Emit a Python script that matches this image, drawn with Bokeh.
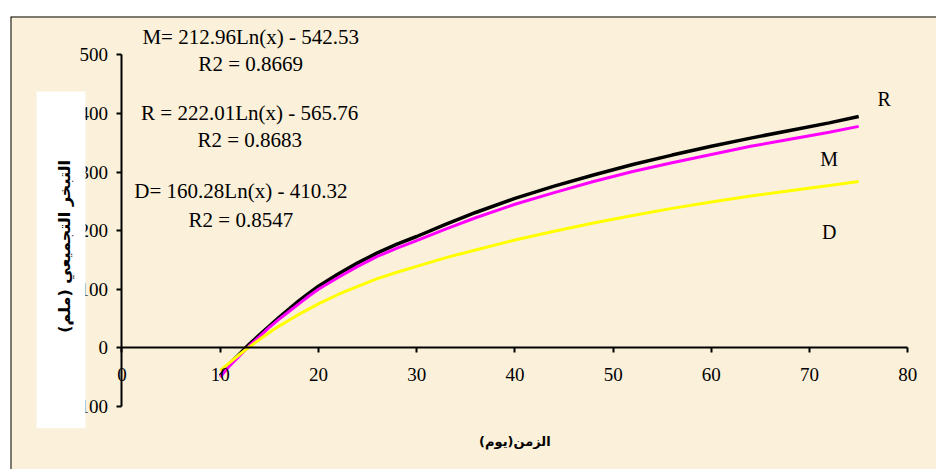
from bokeh.plotting import figure
from bokeh.models import Range1d, FixedTicker, Label, BoxAnnotation, Span
from bokeh.embed import file_html
from bokeh.resources import INLINE

# ---- data ----
days = [10, 11, 12, 13, 14, 15, 16, 17, 18, 19, 20, 22, 24, 26, 28, 30, 33, 36,
        40, 44, 48, 52, 56, 60, 64, 68, 72, 75]
R_vals = [-48, -27, -10, 7, 22, 37, 52, 66, 80, 93, 105, 126, 145, 162, 177, 190, 211, 231,
          255, 276, 295, 313, 329, 344, 358, 371, 384, 395]
M_vals = [-50, -30, -13, 4, 19, 35, 49, 62, 75, 88, 100, 120, 139, 156, 170, 183, 203, 222,
          245, 265, 284, 301, 316, 330, 344, 356, 368, 378]
D_vals = [-39, -25, -11, 2, 14, 26, 37, 47, 57, 66, 75, 91, 105, 118, 129, 139, 154, 167,
          184, 199, 213, 226, 238, 249, 259, 268, 277, 284]

x_ticks = [0, 10, 20, 30, 40, 50, 60, 70, 80]
y_ticks = [-100, 0, 100, 200, 300, 400, 500]

eq_texts = ["M= 212.96Ln(x) - 542.53", "R2 = 0.8669",
            "R = 222.01Ln(x) - 565.76", "R2 = 0.8683",
            "D= 160.28Ln(x) - 410.32", "R2 = 0.8547"]
series_names = ["R", "M", "D"]
y_title = "التبخر التجميعي (ملم)"
x_title = "الزمن(يوم)"

# ---- figure ----
X0, X1 = -11.35, 82.92
Y0, Y1 = -207.8, 565.6
p = figure(width=936, height=469, output_backend="svg", toolbar_location=None,
           x_range=Range1d(X0, X1), y_range=Range1d(Y0, Y1),
           min_border_left=10, min_border_top=16, min_border_right=0, min_border_bottom=0)
p.border_fill_color = "white"
p.background_fill_color = "#FBF0D9"
p.outline_line_color = None
p.xgrid.visible = False
p.ygrid.visible = False

serif = "Liberation Serif"
xa = p.xaxis[0]
ya = p.yaxis[0]
for ax, ticks, bounds in ((xa, x_ticks, (0, 80)), (ya, y_ticks, (-100, 500))):
    ax.fixed_location = 0
    ax.bounds = bounds
    ax.ticker = FixedTicker(ticks=ticks)
    ax.minor_tick_line_color = None
    ax.major_tick_in = 0
    ax.major_tick_out = 5
    ax.major_tick_line_width = 2
    ax.axis_line_width = 2
    ax.axis_line_color = "black"
    ax.major_tick_line_color = "black"
    ax.major_label_text_font = serif
    ax.major_label_text_font_size = "19px"
    ax.major_label_text_color = "black"
xa.major_label_standoff = 15
ya.major_label_standoff = 9

# curves
p.line(days, R_vals, line_color="black", line_width=3.5)
p.line(days, M_vals, line_color="#FF00FF", line_width=3)
p.line(days, D_vals, line_color="#FFFF00", line_width=3)

# border lines (top and left)
p.add_layout(Span(location=Y1, dimension="width", line_color="black", line_width=2))
p.add_layout(Span(location=X0, dimension="height", line_color="black", line_width=2))

# equations
eq_pos = [(13.1, 529.8), (13.1, 483.7), (13.0, 401.7), (13.0, 353.9), (12.1, 266.9), (12.1, 217.4)]
for t, (x, y) in zip(eq_texts, eq_pos):
    p.add_layout(Label(x=x, y=y, text=t, text_font=serif, text_font_size="21px",
                       text_align="center", text_baseline="middle", text_color="black"))

# series names
name_pos = [(77.6, 424), (72.0, 322), (72.0, 197)]
for t, (x, y) in zip(series_names, name_pos):
    p.add_layout(Label(x=x, y=y, text=t, text_font=serif, text_font_size="20px",
                       text_align="center", text_baseline="middle", text_color="black"))

# white box behind y title
p.add_layout(BoxAnnotation(left=-8.70, right=-3.72, top=437.6, bottom=-137.3,
                           fill_color="white", fill_alpha=1.0, line_color=None))
p.add_layout(Label(x=-5.85, y=173, text=y_title, angle=1.5708, angle_units="rad",
                   text_font="DejaVu Sans", text_font_style="bold", text_font_size="16px",
                   text_align="center", text_baseline="middle", text_color="black"))
p.add_layout(Label(x=40.0, y=-160, text=x_title,
                   text_font="DejaVu Sans", text_font_style="bold", text_font_size="13px",
                   text_align="center", text_baseline="middle", text_color="black"))

open("out.html", "w").write(file_html(p, INLINE))
